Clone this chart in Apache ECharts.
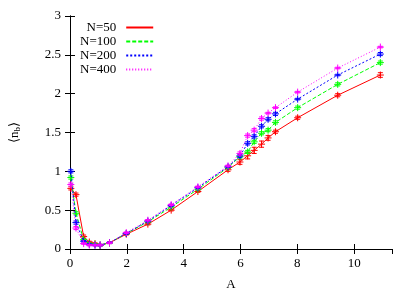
<!DOCTYPE html>
<html><head><meta charset="utf-8">
<script src="https://cdn.jsdelivr.net/npm/echarts@6/dist/echarts.min.js"></script>
<style>html,body{margin:0;padding:0;background:#fff}#c{width:415px;height:291px}</style>
</head><body><div id="c"></div>
<script>
const A = [0.03, 0.21, 0.48, 0.68, 0.88, 1.06, 1.39, 1.98, 2.74, 3.56, 4.5, 5.56, 5.98, 6.25, 6.48, 6.74, 6.97, 7.23, 8.01, 9.42, 10.92];
const n50  = [0.78, 0.70, 0.16, 0.09, 0.07, 0.05, 0.08, 0.19, 0.32, 0.50, 0.74, 1.02, 1.12, 1.20, 1.27, 1.35, 1.43, 1.51, 1.69, 1.98, 2.24];
const n100 = [0.92, 0.46, 0.12, 0.07, 0.06, 0.05, 0.08, 0.20, 0.35, 0.54, 0.77, 1.05, 1.19, 1.25, 1.38, 1.49, 1.53, 1.63, 1.82, 2.12, 2.40];
const n200 = [1.00, 0.34, 0.10, 0.06, 0.05, 0.05, 0.08, 0.20, 0.36, 0.56, 0.79, 1.06, 1.20, 1.36, 1.45, 1.58, 1.67, 1.74, 1.93, 2.24, 2.51];
const n400 = [0.83, 0.27, 0.07, 0.05, 0.05, 0.05, 0.08, 0.21, 0.37, 0.57, 0.80, 1.07, 1.23, 1.46, 1.53, 1.68, 1.75, 1.82, 2.02, 2.33, 2.60];
const e50  = [0.02, 0.02, 0.02, 0.01, 0.01, 0.01, 0.01, 0.01, 0.01, 0.01, 0.01, 0.02, 0.03, 0.04, 0.04, 0.04, 0.03, 0.02, 0.02, 0.02, 0.03];
const e100 = [0.02, 0.02, 0.01, 0.01, 0.01, 0.01, 0.01, 0.01, 0.01, 0.01, 0.01, 0.01, 0.02, 0.02, 0.02, 0.02, 0.02, 0.02, 0.02, 0.02, 0.02];
const e200 = [0.02, 0.02, 0.01, 0.01, 0.01, 0.01, 0.01, 0.01, 0.01, 0.01, 0.01, 0.01, 0.02, 0.02, 0.02, 0.02, 0.02, 0.02, 0.01, 0.01, 0.02];
const e400 = [0.02, 0.02, 0.01, 0.01, 0.01, 0.01, 0.01, 0.01, 0.01, 0.01, 0.01, 0.01, 0.02, 0.02, 0.02, 0.02, 0.01, 0.01, 0.01, 0.01, 0.01];
const names = ['N=50', 'N=100', 'N=200', 'N=400'];
const xTicks = [0, 2, 4, 6, 8, 10];
const yTicks = [0, 0.5, 1, 1.5, 2, 2.5, 3];

const colors = ['#ff0000', '#00ff00', '#0000ff', '#ff00ff'];
const dashes = ['solid', [4, 2], [2, 2], [1, 2]];
const vals = [n50, n100, n200, n400];
const errs = [e50, e100, e200, e400];
const font = 'Liberation Serif, Times New Roman, serif';

const series = [];
vals.forEach((v, i) => {
  series.push({
    type: 'line', name: 'd' + i, data: A.map((a, k) => [a, v[k]]),
    symbol: 'none', lineStyle: { color: colors[i], width: 1, type: dashes[i] },
    itemStyle: { color: colors[i] }, z: 2 + i, silent: true
  });
  series.push({
    type: 'custom', name: 'm' + i, z: 3 + i, silent: true,
    data: A.map((a, k) => [a, v[k], errs[i][k]]),
    renderItem: function (params, api) {
      const x = api.value(0), y = api.value(1), e = api.value(2);
      const p = api.coord([x, y]);
      const lo = api.coord([x, y - e]);
      const hi = api.coord([x, y + e]);
      const s = 3.5, c = 2.5;
      const st = { stroke: colors[i], lineWidth: 1, fill: null };
      return {
        type: 'group', children: [
          { type: 'line', shape: { x1: p[0] - s, y1: p[1], x2: p[0] + s, y2: p[1] }, style: st },
          { type: 'line', shape: { x1: p[0], y1: p[1] - s, x2: p[0], y2: p[1] + s }, style: st },
          { type: 'line', shape: { x1: lo[0], y1: lo[1], x2: hi[0], y2: hi[1] }, style: st },
          { type: 'line', shape: { x1: lo[0] - c, y1: lo[1], x2: lo[0] + c, y2: lo[1] }, style: st },
          { type: 'line', shape: { x1: hi[0] - c, y1: hi[1], x2: hi[0] + c, y2: hi[1] }, style: st }
        ]
      };
    }
  });
  series.push({
    type: 'line', name: names[i], data: [], symbol: 'none', showSymbol: false,
    lineStyle: { color: colors[i], width: 1, type: dashes[i] }, itemStyle: { color: colors[i] }
  });
});

const xMin = 0, xMax = 11.33, yMin = 0, yMax = 3;
const tickStyle = { show: true, inside: true, length: 5, lineStyle: { color: '#000', width: 1 } };
const lbl = (show, arr) => ({
  show: show, fontFamily: font, fontSize: 13, color: '#000', showMaxLabel: arr === yTicks,
  formatter: v => (arr.indexOf(+v.toFixed(6)) >= 0 ? String(+v.toFixed(6)) : '')
});

const chart = echarts.init(document.getElementById('c'), null, { renderer: 'canvas' });
chart.setOption({
  animation: false,
  backgroundColor: '#fff',
  grid: { left: 70, right: 23, top: 16, bottom: 42, containLabel: false, outerBoundsMode: 'none' },
  legend: {
    orient: 'vertical', left: 75, top: 16, itemGap: 1, itemWidth: 27, itemHeight: 10,
    align: 'right', selectedMode: false,
    data: names,
    itemStyle: { opacity: 0 },
    textStyle: { fontFamily: font, fontSize: 13, color: '#000', width: 45, align: 'right', padding: [0, 5, 0, 0] }
  },
  xAxis: [
    { type: 'value', min: xMin, max: xMax, interval: 2, position: 'bottom',
      name: 'A', nameLocation: 'middle', nameGap: 29,
      nameTextStyle: { fontFamily: font, fontSize: 13, color: '#000' },
      axisLine: { show: true, lineStyle: { color: '#000', width: 1 } },
      axisTick: tickStyle, axisLabel: Object.assign(lbl(true, xTicks), { margin: 8 }), splitLine: { show: false } },
    { type: 'value', min: xMin, max: xMax, interval: 2, position: 'top',
      axisLine: { show: true, lineStyle: { color: '#000', width: 1 } },
      axisTick: tickStyle, axisLabel: { show: false }, splitLine: { show: false } }
  ],
  yAxis: [
    { type: 'value', min: yMin, max: yMax, interval: 0.5, position: 'left',
      name: '⟨n{s|b}⟩', nameLocation: 'middle', nameGap: 48, nameRotate: 90,
      nameTextStyle: { fontFamily: font, fontSize: 13, color: '#000',
        rich: { s: { fontFamily: font, fontSize: 9, color: '#000', verticalAlign: 'bottom', padding: [5, 0, 0, 0] } } },
      axisLine: { show: true, lineStyle: { color: '#000', width: 1 } },
      axisTick: tickStyle, axisLabel: Object.assign(lbl(true, yTicks), { margin: 9 }), splitLine: { show: false } },
    { type: 'value', min: yMin, max: yMax, interval: 0.5, position: 'right',
      axisLine: { show: true, lineStyle: { color: '#000', width: 1 } },
      axisTick: tickStyle, axisLabel: { show: false }, splitLine: { show: false } }
  ],
  series: series
});
</script>
</body></html>
